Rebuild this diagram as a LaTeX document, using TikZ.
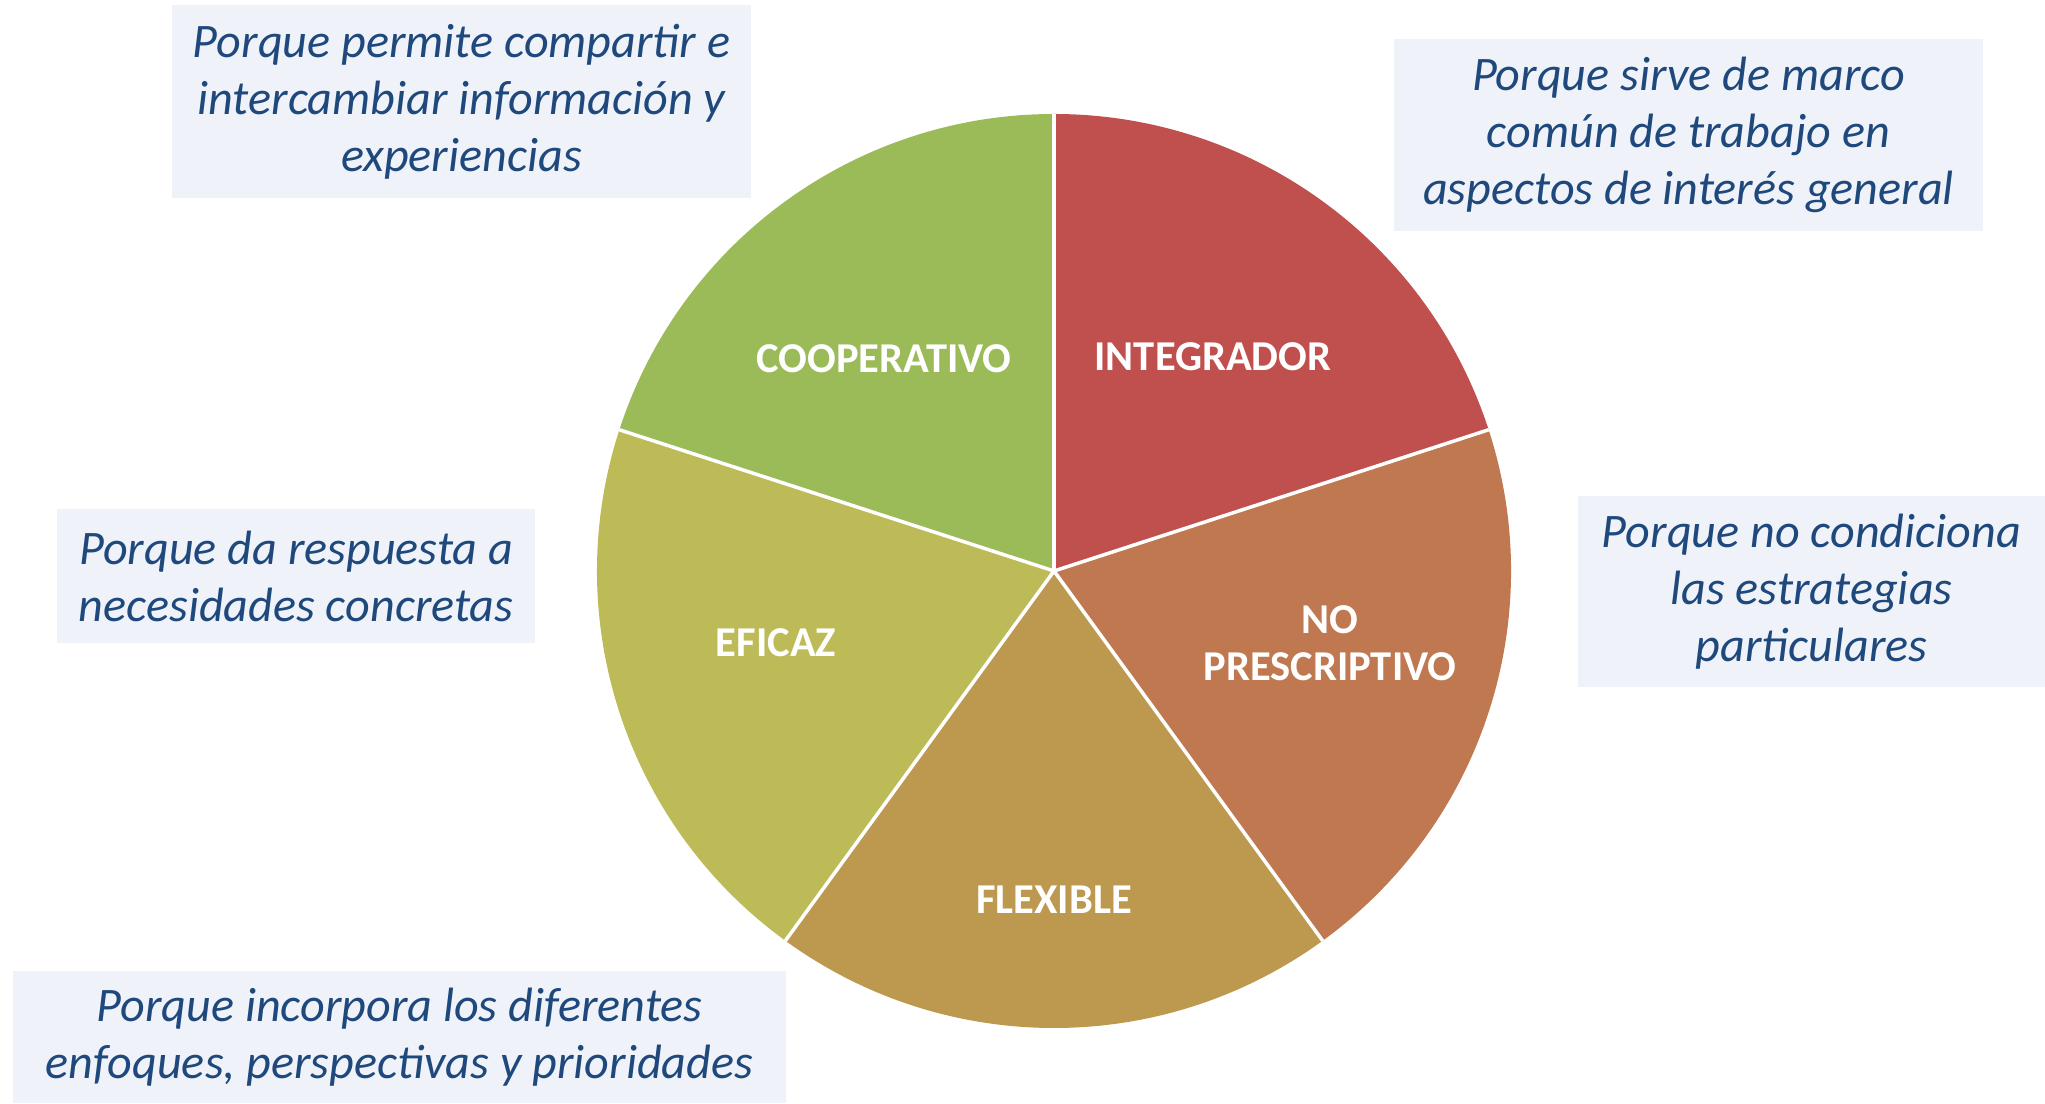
\documentclass[tikz,border=0pt]{standalone}
\usepackage{fontspec}
\setmainfont{Carlito}
\definecolor{integ}{HTML}{C0504D}
\definecolor{nopres}{HTML}{BF784F}
\definecolor{flexi}{HTML}{BD9950}
\definecolor{efic}{HTML}{BDBB58}
\definecolor{coop}{HTML}{9BBB59}
\definecolor{boxfill}{HTML}{EFF3F9}
\definecolor{boxtext}{HTML}{1F487C}
\begin{document}
\begin{tikzpicture}[
	why/.style={fill=boxfill, text=boxtext, align=center, inner sep=0pt,
		font=\fontsize{13.7}{16.2}\selectfont\itshape},
	slicelabel/.style={text=white, align=center,
		font=\fontsize{12.1}{13.3}\selectfont\bfseries}]
		\useasboundingbox (0,0) rectangle (20.45,11.03);
		\coordinate (c) at (10.54,5.32);
		% sectores
		\fill[integ] (c) -- ++(90:4.57) arc (90:18:4.57) -- cycle;
		\fill[nopres] (c) -- ++(18:4.57) arc (18:-54:4.57) -- cycle;
		\fill[flexi] (c) -- ++(-54:4.57) arc (-54:-126:4.57) -- cycle;
		\fill[efic] (c) -- ++(-126:4.57) arc (-126:-198:4.57) -- cycle;
		\fill[coop] (c) -- ++(162:4.57) arc (162:90:4.57) -- cycle;
		\draw[white, line width=1pt] (c) -- ++(90:4.57);
		\draw[white, line width=1pt] (c) -- ++(18:4.57);
		\draw[white, line width=1pt] (c) -- ++(-54:4.57);
		\draw[white, line width=1pt] (c) -- ++(-126:4.57);
		\draw[white, line width=1pt] (c) -- ++(162:4.57);
		\node[slicelabel] (integrador) at (12.13,7.46) {INTEGRADOR};
		\node[slicelabel] (noprescriptivo) at (13.30,4.60) {NO\\PRESCRIPTIVO};
		\node[slicelabel] (flexible) at (10.54,2.03) {FLEXIBLE};
		\node[slicelabel] (eficaz) at (7.76,4.60) {EFICAZ};
		\node[slicelabel] (cooperativo) at (8.84,7.44) {COOPERATIVO};
		% cuadros de texto
		\node[why, minimum width=5.79cm, minimum height=1.93cm] (whycoop) at (4.615,10.015)
			{Porque permite compartir e\\intercambiar información y\\experiencias};
		\node[why, minimum width=5.89cm, minimum height=1.92cm] (whyinteg) at (16.885,9.68)
			{Porque sirve de marco\\común de trabajo en\\aspectos de interés general};
		\node[why, minimum width=4.67cm, minimum height=1.91cm] (whynopres) at (18.115,5.115)
			{Porque no condiciona\\las estrategias\\particulares};
		\node[why, minimum width=4.78cm, minimum height=1.34cm] (whyefic) at (2.96,5.27)
			{Porque da respuesta a\\necesidades concretas};
		\node[why, minimum width=7.73cm, minimum height=1.32cm] (whyflexi) at (3.995,0.66)
			{Porque incorpora los diferentes\\enfoques, perspectivas y prioridades};
	\end{tikzpicture}
\end{document}
